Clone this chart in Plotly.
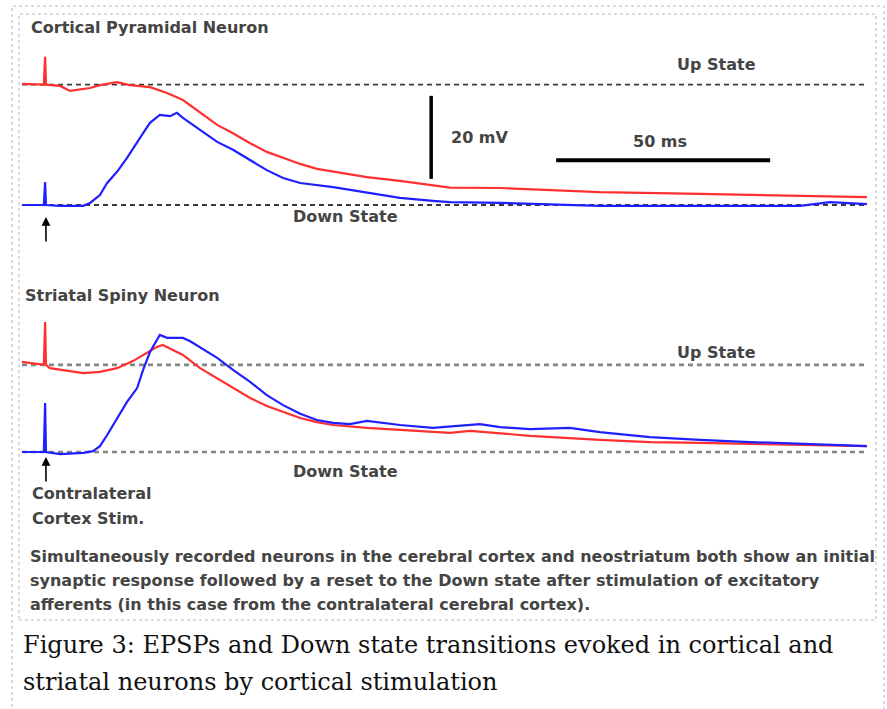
import plotly.graph_objects as go

W, H = 887, 709

# ---- data (time in ms, membrane potential in mV relative to the Down state) ----
UP_CTX = 29.0      # cortical Up state level
UP_STR = 21.0      # striatal Up state level
DOWN = 0.0         # Down state level
T_END = 197.4
STIM_T = 5.6

ctx_up_t = [0, 3.0, 5.1, 5.4, 5.6, 8.9, 11.2, 15.9, 18.2, 22.2, 25.2, 29.9, 33.9, 37.6,
            41.6, 45.6, 49.3, 53.3, 57.2, 61.0, 65.0, 68.9, 72.7, 80.6, 88.3, 95.3,
            100.0, 111.7, 135.0, 158.4, 181.8, 197.4]
ctx_up_v = [29.2, 29.0, 29.0, 35.7, 29.0, 28.7, 27.5, 28.2, 28.9, 29.6, 28.9, 28.4, 27.0, 25.3,
            22.2, 19.3, 17.3, 14.9, 12.8, 11.3, 9.9, 8.7, 8.0, 6.7, 5.8, 4.8,
            4.2, 4.1, 3.1, 2.7, 2.2, 1.9]

ctx_down_t = [0, 3.0, 5.1, 5.4, 5.6, 8.9, 14.3, 15.9, 18.2, 19.9, 22.2, 24.5, 26.9, 28.3,
              29.9, 32.2, 34.6, 36.2, 37.6, 41.6, 45.6, 49.3, 53.3, 57.2, 61.0, 65.0,
              72.7, 80.6, 88.3, 96.0, 100.0, 111.7, 135.0, 158.4, 181.8, 188.8, 197.4]
ctx_down_v = [0.0, 0.0, 0.0, 5.5, 0.0, -0.2, -0.2, 0.5, 2.4, 5.3, 8.0, 11.3, 14.9, 17.3,
              19.8, 21.7, 21.4, 22.2, 21.0, 18.1, 15.2, 13.3, 10.8, 8.4, 6.5, 5.3,
              4.3, 2.9, 1.7, 1.0, 0.7, 0.5, -0.2, -0.2, -0.2, 0.7, 0.2]

str_up_t = [0, 3.0, 5.1, 5.4, 5.6, 6.5, 10.5, 14.3, 18.2, 22.2, 25.9, 28.3, 31.5, 32.9,
            35.3, 37.6, 41.6, 45.6, 49.3, 53.3, 57.2, 61.0, 65.0, 68.9, 72.7, 80.6,
            88.3, 100.0, 104.7, 118.7, 135.0, 146.7, 158.4, 181.8, 197.4]
str_up_v = [21.7, 21.2, 21.0, 31.3, 21.0, 20.2, 19.5, 19.0, 19.3, 20.2, 21.9, 23.4, 25.3, 25.8,
            24.6, 23.4, 20.2, 17.8, 15.4, 13.0, 11.1, 9.6, 8.2, 7.2, 6.5, 5.8,
            5.3, 4.6, 5.1, 3.9, 2.9, 2.4, 2.2, 1.7, 1.4]

str_down_t = [0, 3.0, 5.1, 5.4, 5.6, 8.9, 14.3, 16.6, 18.2, 19.9, 21.3, 22.9, 24.5, 26.9,
              28.3, 29.9, 31.5, 32.2, 33.9, 37.6, 39.3, 41.6, 45.6, 49.3, 53.3, 57.2,
              61.0, 65.0, 68.9, 72.7, 76.6, 80.6, 88.3, 96.0, 102.3, 107.0, 111.7, 118.7,
              128.0, 135.0, 146.7, 158.4, 170.1, 181.8, 197.4]
str_down_v = [0.0, 0.0, 0.0, 11.8, 0.0, -0.5, -0.2, 0.2, 1.4, 4.1, 6.5, 9.4, 12.0, 15.4,
              19.8, 24.1, 27.0, 28.2, 27.5, 27.5, 26.7, 25.3, 22.7, 19.8, 16.9, 13.7,
              11.3, 9.2, 7.7, 7.0, 6.7, 7.5, 6.5, 5.8, 6.3, 6.7, 6.0, 5.5,
              5.8, 4.8, 3.6, 2.9, 2.4, 1.9, 1.4]

SCALE_MV = 20.0
SCALE_MS = 50.0

# ---- layout helpers (pixel geometry of the picture) ----
X0_PX, PX_PER_MS = 22.0, 4.28
PX_PER_MV = 4.15
CTX_DOWN_PX, STR_DOWN_PX = 205.0, 452.0

x_range = [-X0_PX / PX_PER_MS, (W - X0_PX) / PX_PER_MS]
y1_range = [(CTX_DOWN_PX - H) / PX_PER_MV, CTX_DOWN_PX / PX_PER_MV]
y2_range = [(STR_DOWN_PX - H) / PX_PER_MV, STR_DOWN_PX / PX_PER_MV]

RED = "#ff3030"
BLUE = "#2020ff"

fig = go.Figure()

def hline(level, yaxis, color, width, dash):
    fig.add_trace(go.Scatter(x=[0, T_END], y=[level, level], mode="lines", yaxis=yaxis,
                             line=dict(color=color, width=width, dash=dash),
                             hoverinfo="skip", showlegend=False))

hline(UP_CTX, "y", "#3a3a3a", 1.8, "5px,4px")
hline(DOWN, "y", "#3a3a3a", 1.8, "5px,4px")
hline(UP_STR, "y2", "#858585", 2.6, "5px,4px")
hline(DOWN, "y2", "#858585", 2.6, "5px,4px")

for t, v, c, ya in [(ctx_up_t, ctx_up_v, RED, "y"), (ctx_down_t, ctx_down_v, BLUE, "y"),
                    (str_up_t, str_up_v, RED, "y2"), (str_down_t, str_down_v, BLUE, "y2")]:
    fig.add_trace(go.Scatter(x=t, y=v, mode="lines", yaxis=ya,
                             line=dict(color=c, width=2.2),
                             hoverinfo="skip", showlegend=False))

# scale bars
vbar_t, vbar_v0 = 95.6, 6.3
hbar_t0, hbar_v = 124.8, 10.8
fig.add_trace(go.Scatter(x=[vbar_t, vbar_t], y=[vbar_v0, vbar_v0 + SCALE_MV], mode="lines",
                         line=dict(color="black", width=3.5), showlegend=False, hoverinfo="skip"))
fig.add_trace(go.Scatter(x=[hbar_t0, hbar_t0 + SCALE_MS], y=[hbar_v, hbar_v], mode="lines",
                         line=dict(color="black", width=4), showlegend=False, hoverinfo="skip"))

TXT = dict(family="DejaVu Sans", size=16, color="#444444", weight="bold")

def px_text(text, x, y, size=16, anchor="left", font=None):
    f = dict(TXT) if font is None else dict(font)
    f["size"] = size
    fig.add_annotation(text=text, xref="paper", yref="paper", x=x / W, y=1 - y / H,
                       xanchor=anchor, yanchor="middle", showarrow=False, font=f)

px_text("Cortical Pyramidal Neuron", 29, 27)
px_text("Up State", 675, 65)
px_text("20 mV", 449, 137)
px_text("50 ms", 631, 141)
px_text("Down State", 291, 217)
px_text("Striatal Spiny Neuron", 23, 295)
px_text("Up State", 675, 352)
px_text("Down State", 291, 471)
px_text("Contralateral", 30, 493)
px_text("Cortex Stim.", 30, 518)
px_text("Simultaneously recorded neurons in the cerebral cortex and neostriatum both show an initial", 28, 556)
px_text("synaptic response followed by a reset to the Down state after stimulation of excitatory", 28, 580)
px_text("afferents (in this case from the contralateral cerebral cortex).", 28, 604)

CAP = dict(family="DejaVu Serif", color="#111111")
px_text("Figure 3: EPSPs and Down state transitions evoked in cortical and", 21, 645, size=24, font=CAP)
px_text("striatal neurons by cortical stimulation", 21, 682, size=24, font=CAP)

# stimulus arrows
for yref, tip in [("y", -2.9), ("y2", -1.2)]:
    fig.add_annotation(x=STIM_T, y=tip, xref="x", yref=yref, text="", showarrow=True,
                       ax=0, ay=26, arrowhead=2, arrowsize=1.1, arrowwidth=1.6, arrowcolor="black")

def dotted_rect(x0, y0, x1, y1):
    fig.add_shape(type="rect", xref="paper", yref="paper", x0=x0 / W, x1=x1 / W,
                  y0=1 - y1 / H, y1=1 - y0 / H, line=dict(color="#b8b8b8", width=1, dash="dot"))

dotted_rect(12, 6, 884, 720)
dotted_rect(19, 14, 876, 620)

fig.update_layout(
    width=W, height=H, margin=dict(l=0, r=0, t=0, b=0),
    paper_bgcolor="white", plot_bgcolor="white", showlegend=False,
    xaxis=dict(range=x_range, domain=[0, 1], visible=False, fixedrange=True),
    yaxis=dict(range=y1_range, domain=[0, 1], visible=False, fixedrange=True),
    yaxis2=dict(range=y2_range, domain=[0, 1], visible=False, overlaying="y", fixedrange=True),
)

fig.write_html("out.html", config={"displayModeBar": False},
               post_script="document.body.style.margin='0';document.body.style.overflow='hidden';")
